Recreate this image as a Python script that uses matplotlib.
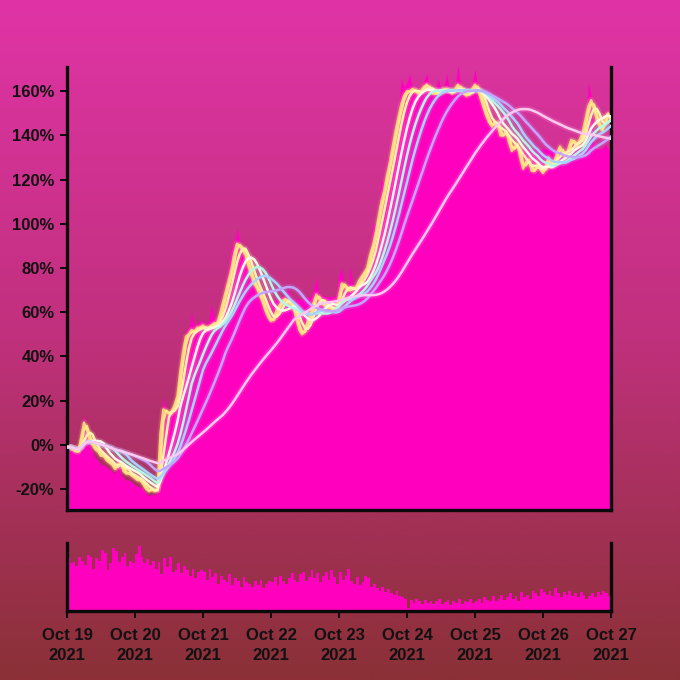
import numpy as np
import pandas as pd
import matplotlib
matplotlib.use("Agg")
import matplotlib.pyplot as plt
import matplotlib.dates as mdates
from matplotlib.colors import LinearSegmentedColormap

# ---------------- data (hourly, % change since Oct 19 00:00) ----------------
start = "2021-10-19 00:00"
close = [
    -1, -1, -2, -3, -3, 3, 10, 7, 2, 0, -2, -3, -5, -5, -7, -8, -9, -11, -9, -8, -12, -13, -13, -14,
    -15, -16, -16, -18, -20, -21, -20, -21, -20, 5, 16, 15, 14, 15, 18, 22, 33, 42, 49, 50, 52, 51, 53, 53,
    54, 52, 53, 54, 55, 55, 59, 64, 69, 74, 79, 86, 91, 90, 88, 86, 81, 77, 73, 71, 68, 65, 61, 58,
    56, 57, 61, 63, 65, 66, 65, 63, 62, 57, 52, 50, 52, 56, 59, 64, 68, 66, 64, 63, 62, 62, 61, 61,
    67, 73, 72, 70, 70, 71, 71, 74, 76, 78, 80, 86, 90, 96, 103, 110, 115, 122, 128, 135, 142, 148, 154, 158,
    160, 160, 161, 160, 159, 160, 162, 163, 161, 159, 159, 159, 160, 161, 161, 160, 159, 161, 163, 161, 159, 158, 159, 161,
    163, 161, 157, 153, 149, 146, 144, 146, 145, 140, 140, 142, 137, 133, 135, 136, 130, 125, 128, 129, 124, 124, 127, 125,
    123, 126, 130, 126, 128, 132, 135, 132, 130, 134, 138, 137, 135, 138, 141, 147, 153, 156, 152, 147, 144, 142, 148, 150,
    147,
]
area_top = [
    -1, -1, -2, -3, -3, 3, 14, 6, 0, -3, -6, -7, -9, -9, -10, -11, -12, -13, -2, -13, -15, -16, -16, -17,
    -18, -19, -19, -20, -22, -23, -22, -23, -20, 8, 22, 16, 15, 17, 20, 25, 36, 45, 52, 53, 60, 53, 56, 55,
    57, 54, 56, 64, 57, 58, 62, 68, 74, 80, 90, 90, 98, 92, 89, 86, 81, 77, 73, 70, 67, 66, 65, 65,
    65, 65, 66, 67, 67, 68, 71, 67, 66, 66, 66, 66, 66, 67, 67, 70, 76, 68, 68, 67, 67, 67, 67, 68,
    77, 80, 72, 70, 81, 71, 72, 74, 76, 78, 80, 88, 100, 100, 108, 120, 118, 130, 130, 140, 146, 152, 166, 162,
    164, 168, 161, 161, 160, 161, 165, 168, 162, 160, 160, 166, 161, 162, 168, 161, 160, 162, 172, 162, 160, 159, 160, 164,
    170, 162, 158, 154, 150, 147, 145, 146, 144, 141, 140, 140, 137, 135, 135, 135, 134, 134, 134, 134, 134, 134, 134, 134,
    134, 134, 134, 134, 134, 134, 136, 134, 134, 134, 139, 134, 134, 134, 135, 141, 164, 158, 135, 134, 134, 134, 136, 134,
    134,
]
volume = [
    78, 70, 72, 66, 80, 74, 68, 82, 80, 62, 78, 74, 90, 86, 60, 70, 92, 88, 72, 80, 86, 66, 74, 70,
    84, 96, 80, 70, 76, 68, 74, 62, 72, 55, 78, 64, 80, 58, 60, 70, 56, 66, 60, 52, 62, 48, 58, 60,
    58, 45, 62, 50, 56, 40, 52, 46, 42, 54, 38, 48, 44, 36, 50, 42, 40, 35, 44, 38, 46, 34, 40, 44,
    42, 50, 38, 52, 44, 40, 48, 56, 46, 42, 54, 58, 44, 50, 60, 48, 56, 42, 52, 58, 46, 60, 50, 40,
    58, 46, 52, 62, 44, 40, 50, 38, 42, 52, 48, 36, 40, 34, 30, 36, 28, 32, 26, 24, 30, 22, 20, 18,
    4, 16, 12, 18, 14, 10, 16, 12, 15, 10, 14, 18, 11, 13, 16, 9, 14, 12, 17, 10, 15, 13, 18, 12,
    14, 18, 12, 20, 16, 15, 22, 14, 18, 24, 16, 20, 26, 18, 22, 15, 28, 20, 24, 17, 30, 26, 22, 32,
    28, 24, 30, 22, 34, 26, 20, 28, 24, 30, 22, 26, 20, 28, 24, 18, 22, 26, 20, 28, 24, 30, 26, 22,
    20,
]
ma_windows = [1, 2, 4, 8, 12, 16, 24, 48]
ma_colors = ["#ffd27a", "#ffe48a", "#fff2b0", "#fff8e6", "#b4f7e4", "#a9d2ff", "#c4a6ff", "#ffc9f0"]
y_ticks = [-20, 0, 20, 40, 60, 80, 100, 120, 140, 160]

# ---------------- figure ----------------
plt.rcParams["font.family"] = ["Liberation Sans", "DejaVu Sans"]
plt.rcParams["font.weight"] = "bold"
fig = plt.figure(figsize=(6.8, 6.8), dpi=100)

# gradient background
bg = fig.add_axes([0, 0, 1, 1], zorder=-10)
cmap = LinearSegmentedColormap.from_list("bg", ["#e034a6", "#c0307c", "#8a3036"])
bg.imshow(np.linspace(0, 1, 256).reshape(-1, 1), aspect="auto", cmap=cmap,
          extent=[0, 1, 0, 1])
bg.axis("off")

dates = pd.date_range(start, periods=len(close), freq="h")
s = pd.Series(close, index=dates)

ax = fig.add_axes([0.0985, 0.25, 0.80, 0.6515])
axv = fig.add_axes([0.0985, 0.1015, 0.80, 0.100], sharex=ax)
for a in (ax, axv):
    a.set_facecolor("none")
    a.spines["top"].set_visible(False)
    for sp in ("left", "right", "bottom"):
        a.spines[sp].set_linewidth(2.4)
        a.spines[sp].set_color("#0a0a0a")

magenta = "#ff00bf"
ax.fill_between(dates, area_top, -100, color=magenta, lw=0, zorder=1)

for w, c in zip(ma_windows, ma_colors):
    m = s.rolling(w, min_periods=1).mean()
    ax.plot(dates, m, color=c, lw=4.5, alpha=0.16, zorder=2, solid_capstyle="round")
    ax.plot(dates, m, color=c, lw=1.8, zorder=3)

ax.set_ylim(-29.5, 171)
ax.set_yticks(y_ticks)
ax.set_yticklabels([f"{v}%" for v in y_ticks])
ax.tick_params(axis="y", length=5, width=1.4, color="#0a0a0a", labelsize=12,
               labelcolor="#111111", pad=4)
ax.tick_params(axis="x", length=0, labelbottom=False)

axv.bar(dates, volume, width=1 / 24, color=magenta, lw=0, align="edge")
axv.set_ylim(0, 100)
axv.set_yticks([])
axv.set_xlim(pd.Timestamp("2021-10-19"), pd.Timestamp("2021-10-27"))
axv.xaxis.set_major_locator(mdates.DayLocator())
axv.xaxis.set_major_formatter(mdates.DateFormatter("%b %d\n%Y"))
axv.tick_params(axis="x", length=5, width=1.4, color="#0a0a0a", labelsize=12,
                labelcolor="#111111", pad=7)
for lbl in axv.get_xticklabels():
    lbl.set_horizontalalignment("center")
    lbl.set_linespacing(1.45)

fig.savefig("out.png", dpi=100)
